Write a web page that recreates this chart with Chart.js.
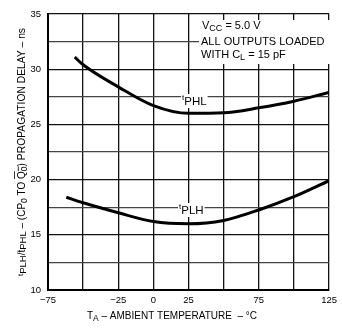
<!DOCTYPE html>
<html>
<head>
<meta charset="utf-8">
<script src="https://cdn.jsdelivr.net/npm/chart.js@4/dist/chart.umd.min.js"></script>
<style>
  html, body { margin: 0; padding: 0; background: #fff; }
  #wrap { width: 342px; height: 329px; position: relative; }
</style>
</head>
<body>
<div id="wrap"><canvas id="delay_chart"></canvas></div>
<script>
// values
const tempPHL = [-56, -50, -25, 0, 25, 50, 75, 100, 125];
const delayPHL = [31.1, 30.4, 28.4, 26.7, 26.0, 26.05, 26.5, 27.1, 27.9];
const tempPLH = [-62, -50, -25, 0, 25, 50, 75, 100, 125];
const delayPLH = [18.4, 17.9, 17.0, 16.2, 16.0, 16.3, 17.25, 18.45, 19.9];
const xTickLabels = [-75, -25, 0, 25, 75, 125];
const yTickLabels = [10, 15, 20, 25, 30, 35];

const FONT = '"Liberation Sans", Arial, sans-serif';

function pts(xs, ys) {
	return xs.map((x, i) => ({ x: x, y: ys[i] }));
}

function minus(v) {
	return v < 0 ? '\u2212' + Math.abs(v) : String(v);
}

// draw a run of segments, each {t, size, dy, over}
function richWidth(ctx, segs) {
	let w = 0;
	segs.forEach(s => {
		ctx.font = s.size + 'px ' + FONT;
		w += ctx.measureText(s.t).width;
	});
	return w;
}
function drawRich(ctx, segs, x, y) {
	segs.forEach(s => {
		ctx.font = s.size + 'px ' + FONT;
		const w = ctx.measureText(s.t).width;
		ctx.fillText(s.t, x, y + (s.dy || 0));
		if (s.over) {
			ctx.fillRect(x, y + (s.dy || 0) - s.size * 0.78, w, 0.8);
		}
		x += w;
	});
	return x;
}

const textPlugin = {
	id: 'textPlugin',
	afterDraw(chart) {
		const ctx = chart.ctx;
		ctx.save();
		ctx.fillStyle = '#000';
		ctx.textBaseline = 'middle';
		ctx.textAlign = 'left';

		// conditions box
		ctx.fillStyle = '#fff';
		ctx.fillRect(199, 20, 131, 44);
		ctx.fillStyle = '#000';
		drawRich(ctx, [
			{ t: 'V', size: 11 }, { t: 'CC', size: 9, dy: 2.5 }, { t: ' = 5.0 V', size: 11 }
		], 202, 26);
		ctx.font = '11px ' + FONT;
		ctx.fillText('ALL OUTPUTS LOADED', 201, 41.5);
		drawRich(ctx, [
			{ t: 'WITH C', size: 11 }, { t: 'L', size: 9, dy: 2.5 }, { t: ' = 15 pF', size: 11 }
		], 201, 55);

		// curve labels
		const labels = [
			{ sub: 'PHL', x: 182, y: 101 },
			{ sub: 'PLH', x: 179, y: 210 }
		];
		labels.forEach(l => {
			const segs = [{ t: 't', size: 8, dy: -3 }, { t: l.sub, size: 11.5, dy: 1 }];
			const w = richWidth(ctx, segs);
			ctx.fillStyle = '#fff';
			ctx.fillRect(l.x - 1, l.y - 7, w + 2, 14);
			ctx.fillStyle = '#000';
			drawRich(ctx, segs, l.x, l.y);
		});

		// x axis title
		const xt = [
			{ t: 'T', size: 10 }, { t: 'A', size: 8.5, dy: 2.5 },
			{ t: ' \u2013 AMBIENT TEMPERATURE  \u2013 \u00B0C', size: 10 }
		];
		const xw = richWidth(ctx, xt);
		drawRich(ctx, xt, 172 - xw / 2, 316);

		// y axis title, rotated
		const yt = [
			{ t: 't', size: 8, dy: -1 }, { t: 'PLH', size: 9.5, dy: 1.5 }, { t: '/t', size: 10 },
			{ t: 'PHL', size: 9.5, dy: 1.5 }, { t: ' \u2013 (CP', size: 10 }, { t: '0', size: 8.5, dy: 2.5 },
			{ t: ' TO ', size: 10 }, { t: 'Q', size: 10, over: true }, { t: '0', size: 8.5, dy: 2.5, over: true },
			{ t: ') PROPAGATION DELAY \u2013 ns', size: 10.3 }
		];
		const yw = richWidth(ctx, yt);
		ctx.translate(22, 152);
		ctx.rotate(-Math.PI / 2);
		drawRich(ctx, yt, -yw / 2, 0);
		ctx.restore();
	}
};

const data = {
	datasets: [
		{
			label: 'tPHL',
			data: pts(tempPHL, delayPHL),
			borderColor: '#000',
			borderWidth: 3,
			pointRadius: 0,
			cubicInterpolationMode: 'monotone',
			fill: false
		},
		{
			label: 'tPLH',
			data: pts(tempPLH, delayPLH),
			borderColor: '#000',
			borderWidth: 3,
			pointRadius: 0,
			cubicInterpolationMode: 'monotone',
			fill: false
		}
	]
};

const config = {
	type: 'line',
	data: data,
	options: {
		responsive: true,
		maintainAspectRatio: false,
		animation: false,
		layout: { padding: { top: 14, right: 8, left: 0, bottom: 0 } },
		plugins: {
			legend: { display: false },
			tooltip: { enabled: false }
		},
		scales: {
			x: {
				type: 'linear',
				min: -75,
				max: 125,
				ticks: {
					stepSize: 25,
					padding: 5,
					color: '#000',
					font: { family: FONT, size: 9.5 },
					maxRotation: 0,
					callback: v => xTickLabels.includes(v) ? minus(v) : ''
				},
				grid: { color: '#111', lineWidth: 1.3, drawTicks: false },
				border: { color: '#000', width: 2 },
				afterFit: s => { s.height = 39; }
			},
			y: {
				min: 10,
				max: 35,
				ticks: {
					stepSize: 2.5,
					padding: 7,
					color: '#000',
					font: { family: FONT, size: 9.5 },
					callback: v => yTickLabels.includes(v) ? String(v) : ''
				},
				grid: {
					color: c => (c.tick && yTickLabels.includes(c.tick.value)) ? '#111' : '#444',
					lineWidth: 1.2,
					drawTicks: false
				},
				border: { color: '#000', width: 2 },
				afterFit: s => { s.width = 48; }
			}
		}
	},
	plugins: [textPlugin]
};

const delayChart = new Chart(document.getElementById('delay_chart'), config);
</script>
</body>
</html>
